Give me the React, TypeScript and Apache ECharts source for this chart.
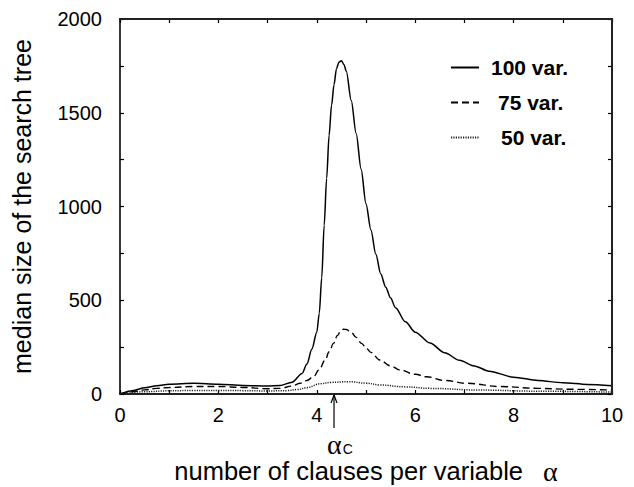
import React, { useEffect, useRef } from "react";
import * as echarts from "echarts";

const SANS = "'Liberation Sans', Arial, Helvetica, sans-serif";
const SERIF = "'Liberation Serif', 'Times New Roman', serif";

const seriesNames = ["100 var.", "75 var.", "50 var."];

const alpha100 = [0, 0.25, 0.5, 0.75, 1, 1.5, 2, 2.5, 3, 3.25, 3.5, 3.7, 3.8, 3.9, 4.0, 4.05, 4.1, 4.15, 4.2, 4.25, 4.3, 4.35, 4.4, 4.45, 4.5, 4.55, 4.6, 4.7, 4.8, 4.9, 5.0, 5.1, 5.2, 5.3, 5.4, 5.5, 5.6, 5.8, 6.0, 6.3, 6.6, 6.9, 7.2, 7.5, 8.0, 8.5, 9.0, 9.5, 10];
const size100 = [0, 18, 33, 44, 52, 57, 52, 46, 43, 45, 63, 110, 160, 240, 330, 430, 620, 900, 1150, 1380, 1540, 1650, 1735, 1770, 1778, 1758, 1722, 1565, 1390, 1200, 1015, 875, 745, 640, 570, 512, 460, 385, 330, 272, 220, 180, 150, 122, 90, 72, 60, 51, 44];

const alpha75 = [0, 0.25, 0.5, 0.75, 1, 1.5, 2, 2.5, 3, 3.25, 3.5, 3.66, 3.8, 3.93, 4.05, 4.17, 4.25, 4.34, 4.42, 4.48, 4.54, 4.6, 4.7, 4.8, 4.91, 5.0, 5.1, 5.28, 5.5, 5.69, 6.0, 6.23, 6.6, 7.05, 7.72, 8.5, 9.2, 10];
const size75 = [0, 12, 22, 30, 35, 40, 40, 35, 28, 30, 42, 57, 72, 92, 130, 181, 225, 270, 312, 333, 345, 344, 328, 302, 270, 245, 222, 181, 150, 128, 105, 92, 72, 57, 40, 30, 25, 21];

const alpha50 = [0, 0.5, 1, 1.5, 2, 2.5, 3, 3.4, 3.6, 3.8, 4.07, 4.3, 4.64, 5.0, 5.28, 5.8, 6.3, 7.3, 8.5, 10];
const size50 = [0, 12, 17, 19, 19, 18, 16, 18, 24, 34, 55, 62, 66, 58, 48, 38, 30, 21, 15, 10];

const xTickLabels = [0, 2, 4, 6, 8, 10];
const yTickLabels = [0, 500, 1000, 1500, 2000];
const X_MIN = 0;
const X_MAX = 10;
const Y_MIN = 0;
const Y_MAX = 2000;
const ALPHA_C = 4.35;

const pairs = (xs: number[], ys: number[]) => xs.map((x, i) => [x, ys[i]]);

export default function App() {
  const ref = useRef<HTMLDivElement>(null);
  useEffect(() => {
    const chart = echarts.init(ref.current!, null, { renderer: "svg" });
    const axisLine = { show: true, onZero: false, lineStyle: { color: "#222", width: 1.8 } };
    const tick = { show: true, inside: true, length: 4, lineStyle: { color: "#000", width: 1.2 } };
    const baseX = { type: "value", min: X_MIN, max: X_MAX, interval: 1, splitLine: { show: false } };
    const baseY = { type: "value", min: Y_MIN, max: Y_MAX, interval: 250, splitLine: { show: false } };
    chart.setOption({
      animation: false,
      backgroundColor: "#fff",
      grid: {
        left: 120,
        top: 19,
        right: 22,
        bottom: 93,
        containLabel: false,
        outerBoundsMode: "none",
      },
      xAxis: [
        {
          ...baseX,
          position: "bottom",
          axisLine: { ...axisLine },
          axisTick: { ...tick },
          axisLabel: {
            show: true,
            margin: 11,
            color: "#000",
            fontSize: 20,
            fontFamily: SANS,
            formatter: (v: number) => (xTickLabels.includes(v) ? String(v) : ""),
          },
          name: "{t|number of clauses per variable}{a|α}",
          nameLocation: "middle",
          nameGap: 63,
          nameTextStyle: {
            rich: {
              t: { fontSize: 25.5, fontFamily: SANS, color: "#000", lineHeight: 28 },
              a: { fontSize: 28, fontFamily: SERIF, color: "#000", lineHeight: 28, padding: [0, 0, 0, 20] },
            },
          },
        },
        {
          ...baseX,
          position: "top",
          axisLine: { ...axisLine },
          axisTick: { ...tick },
          axisLabel: { show: false },
        },
      ],
      yAxis: [
        {
          ...baseY,
          position: "left",
          axisLine: { ...axisLine },
          axisTick: { ...tick },
          axisLabel: {
            show: true,
            margin: 18,
            color: "#000",
            fontSize: 20,
            fontFamily: SANS,
            formatter: (v: number) => (yTickLabels.includes(v) ? String(v) : ""),
          },
          name: "median size of the search tree",
          nameLocation: "middle",
          nameGap: 86,
          nameTextStyle: { fontSize: 25, fontFamily: SANS, color: "#000" },
        },
        {
          ...baseY,
          position: "right",
          axisLine: { ...axisLine },
          axisTick: { ...tick },
          axisLabel: { show: false },
        },
      ],
      legend: {
        orient: "vertical",
        left: 450,
        top: 57,
        padding: 0,
        itemWidth: 28,
        itemHeight: 14,
        itemGap: 14,
        itemStyle: { color: "rgba(0,0,0,0)", borderWidth: 0, opacity: 0 },
        textStyle: { fontSize: 21, fontWeight: "bold", fontFamily: SANS, color: "#000", lineHeight: 21 },
        data: [
          { name: seriesNames[0], textStyle: { padding: [0, 0, 0, 7] } },
          { name: seriesNames[1], textStyle: { padding: [0, 0, 0, 14] } },
          { name: seriesNames[2], textStyle: { padding: [0, 0, 0, 17] } },
        ],
      },
      series: [
        {
          name: seriesNames[0],
          type: "line",
          xAxisIndex: 0,
          yAxisIndex: 0,
          data: pairs(alpha100, size100),
          showSymbol: false,
          symbol: "none",
          smooth: 0.3,
          smoothMonotone: "x",
          clip: false,
          lineStyle: { color: "#000", width: 1.5, type: "solid" },
          itemStyle: { color: "#000" },
          markLine: {
            silent: true,
            symbol: ["none", "none"],
            label: { show: false },
            lineStyle: { color: "#222", width: 1.8, type: "solid" },
            emphasis: { disabled: true },
            data: [{ yAxis: Y_MAX }, { xAxis: X_MAX }],
          },
        },
        {
          name: seriesNames[1],
          type: "line",
          xAxisIndex: 0,
          yAxisIndex: 0,
          data: pairs(alpha75, size75),
          showSymbol: false,
          symbol: "none",
          smooth: 0.4,
          smoothMonotone: "x",
          lineStyle: { color: "#000", width: 1.4, type: [7, 4] },
          itemStyle: { color: "#000" },
        },
        {
          name: seriesNames[2],
          type: "line",
          xAxisIndex: 0,
          yAxisIndex: 0,
          data: pairs(alpha50, size50),
          showSymbol: false,
          symbol: "none",
          smooth: 0.4,
          smoothMonotone: "x",
          lineStyle: { color: "#222", width: 1.5, type: [1.2, 1.2] },
          itemStyle: { color: "#222" },
        },
      ],
    });

    const conv = (v: number[]) => chart.convertToPixel({ xAxisIndex: 0, yAxisIndex: 0 }, v) as number[];
    const [px, py] = conv([ALPHA_C, 0]);
    const [fx0, fy0] = conv([X_MIN, Y_MIN]);
    const [fx1, fy1] = conv([X_MAX, Y_MAX]);
    chart.setOption({
      graphic: [
        { type: "rect", silent: true, z: 10, shape: { x: fx0 - 1, y: fy1 - 1, width: fx1 - fx0 + 2, height: 2 }, style: { fill: "#222" } },
        { type: "rect", silent: true, z: 10, shape: { x: fx1 - 1, y: fy1 - 1, width: 2, height: fy0 - fy1 + 2 }, style: { fill: "#222" } },
        { type: "line", silent: true, shape: { x1: px, y1: py + 1, x2: px, y2: py + 34 }, style: { stroke: "#000", lineWidth: 1.2 } },
        {
          type: "polyline",
          silent: true,
          shape: { points: [[px - 3, py + 9], [px, py + 1], [px + 3, py + 9]] },
          style: { stroke: "#000", lineWidth: 1.2, fill: null },
        },
        {
          type: "text",
          silent: true,
          x: px - 7,
          y: py + 50,
          style: {
            text: "{a|α}{c|C}",
            align: "left",
            verticalAlign: "middle",
            rich: {
              a: { fontSize: 28, fontFamily: SERIF, fill: "#000", lineHeight: 24 },
              c: { fontSize: 14, fontFamily: SANS, fill: "#000", lineHeight: 14, verticalAlign: "bottom", padding: [0, 0, 0, 1] },
            },
          },
        },
      ],
    });

    return () => chart.dispose();
  }, []);
  return <div ref={ref} style={{ position: "absolute", left: 0, top: 0, width: 634, height: 487 }} />;
}
